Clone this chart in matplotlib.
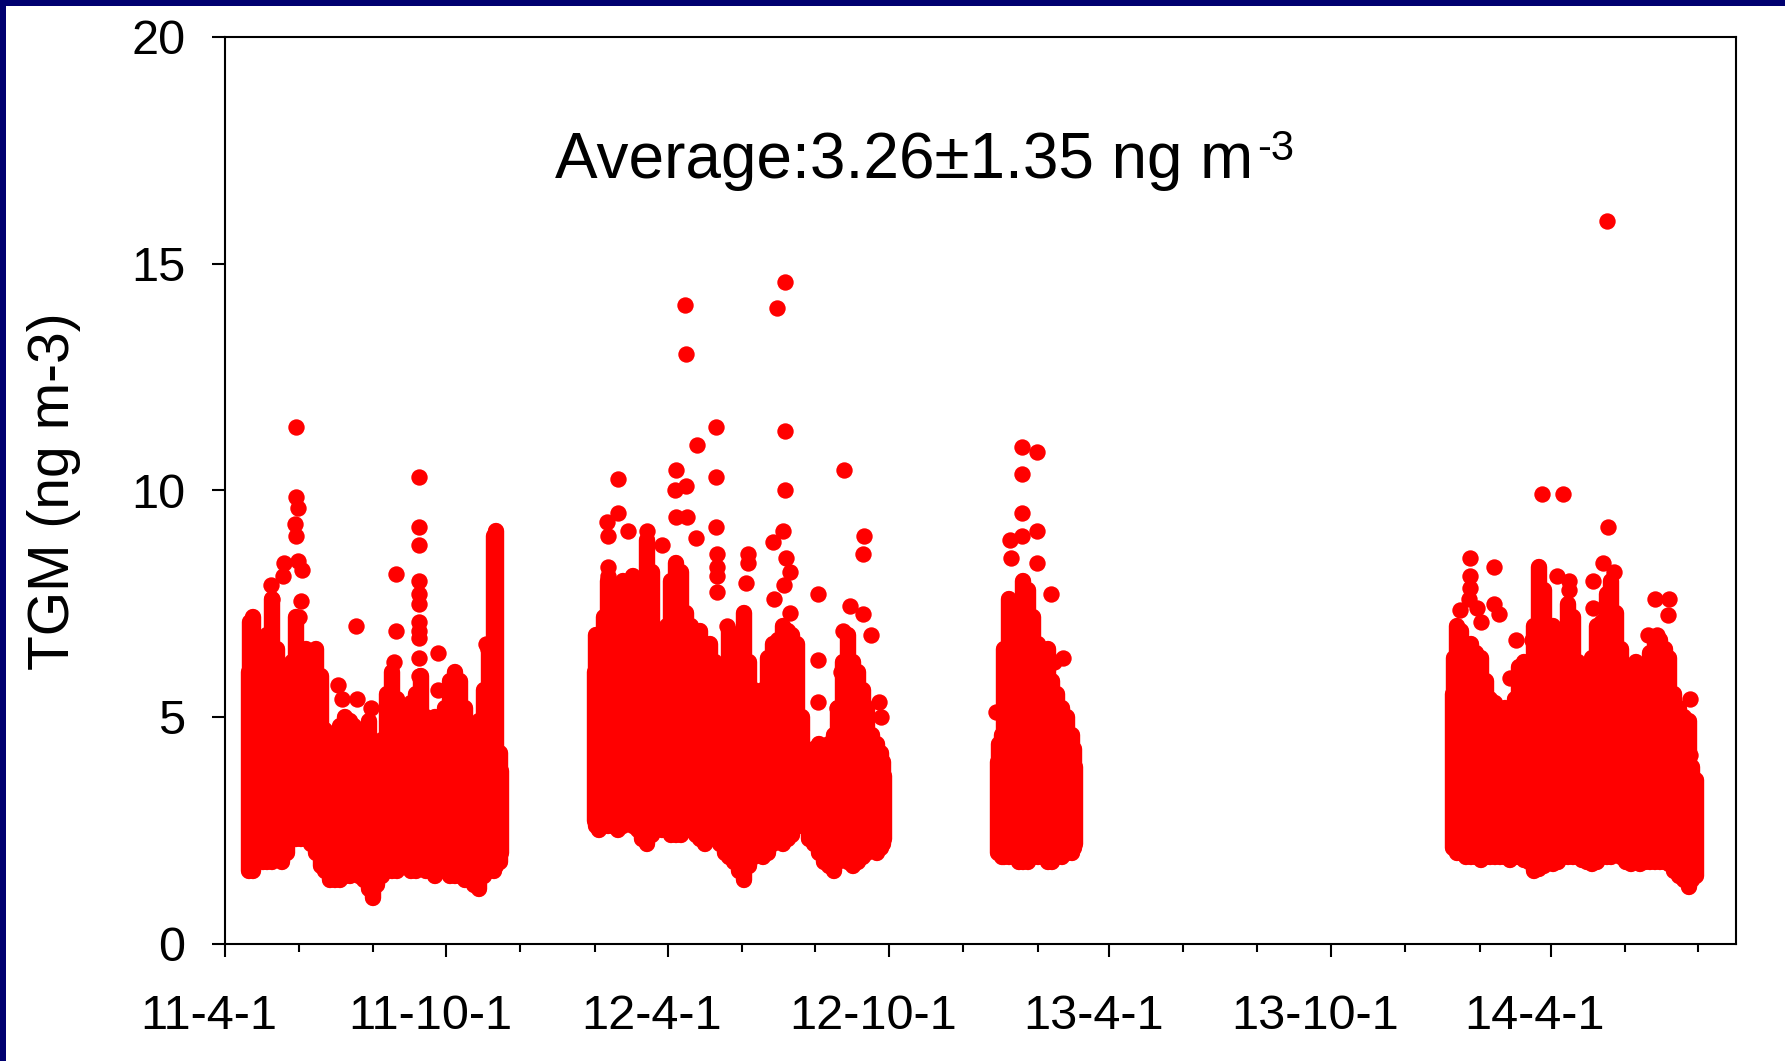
import matplotlib
matplotlib.use('Agg')
import matplotlib.pyplot as plt
import matplotlib.dates as mdates
import matplotlib.transforms as mtransforms
from matplotlib.patches import Rectangle
import pandas as pd

plt.rcParams['font.family'] = ['Liberation Sans', 'DejaVu Sans']

# ---------------- data ----------------
# dense bands: per date, lowest and highest value of the packed points
a_dates = ['2011-04-21', '2011-04-22', '2011-04-24', '2011-04-28', '2011-05-02', '2011-05-06',
           '2011-05-10', '2011-05-14', '2011-05-18', '2011-05-22', '2011-05-26', '2011-05-30',
           '2011-06-03', '2011-06-07', '2011-06-11', '2011-06-15', '2011-06-19', '2011-06-23',
           '2011-06-27', '2011-07-01', '2011-07-05', '2011-07-09', '2011-07-13', '2011-07-17',
           '2011-07-21', '2011-07-25', '2011-07-29', '2011-08-01', '2011-08-05', '2011-08-09',
           '2011-08-13', '2011-08-17', '2011-08-21', '2011-08-25', '2011-08-29', '2011-09-02',
           '2011-09-06', '2011-09-10', '2011-09-14', '2011-09-18', '2011-09-22', '2011-09-26',
           '2011-09-30', '2011-10-04', '2011-10-08', '2011-10-12', '2011-10-16', '2011-10-20',
           '2011-10-24', '2011-10-28', '2011-11-01', '2011-11-05', '2011-11-09', '2011-11-11',
           '2011-11-14', '2011-11-15']
a_low = [1.6, 1.7, 1.6, 1.8, 1.8, 1.8,
         1.8, 1.9, 1.8, 2.0, 2.3, 2.3,
         2.3, 2.3, 2.2, 2.0, 1.7, 1.6,
         1.4, 1.4, 1.4, 1.5, 1.5, 1.6,
         1.5, 1.4, 1.2, 1.0, 1.3, 1.5,
         1.6, 1.6, 1.6, 1.7, 1.7, 1.6,
         1.6, 1.7, 1.6, 1.6, 1.5, 1.7,
         1.6, 1.5, 1.5, 1.5, 1.4, 1.4,
         1.3, 1.2, 1.5, 1.6, 1.6, 1.7,
         1.8, 2.0]
a_high = [6.0, 7.1, 7.2, 6.0, 5.5, 6.8,
          7.6, 6.5, 6.0, 5.9, 6.2, 7.2,
          6.4, 6.5, 6.4, 6.5, 5.9, 4.7,
          4.3, 4.2, 4.8, 5.0, 4.9, 4.8,
          4.4, 4.6, 4.9, 4.2, 4.3, 4.5,
          5.5, 6.0, 5.4, 5.2, 5.0, 5.3,
          5.5, 5.9, 5.0, 4.8, 5.0, 4.7,
          5.2, 5.8, 6.0, 5.8, 5.2, 4.6,
          4.4, 4.9, 5.6, 6.5, 9.0, 9.1,
          4.2, 3.8]

b_dates = ['2012-02-01', '2012-02-02', '2012-02-04', '2012-02-08', '2012-02-12', '2012-02-16',
           '2012-02-20', '2012-02-24', '2012-02-28', '2012-03-03', '2012-03-07', '2012-03-11',
           '2012-03-15', '2012-03-19', '2012-03-23', '2012-03-27', '2012-03-31', '2012-04-04',
           '2012-04-08', '2012-04-12', '2012-04-16', '2012-04-20', '2012-04-24', '2012-04-28',
           '2012-05-02', '2012-05-06', '2012-05-10', '2012-05-14', '2012-05-18', '2012-05-22',
           '2012-05-26', '2012-05-30', '2012-06-03', '2012-06-07', '2012-06-11', '2012-06-15',
           '2012-06-19', '2012-06-23', '2012-06-27', '2012-07-01', '2012-07-05', '2012-07-09',
           '2012-07-13', '2012-07-17', '2012-07-21', '2012-07-27', '2012-07-31', '2012-08-04',
           '2012-08-08', '2012-08-12', '2012-08-16', '2012-08-20', '2012-08-24', '2012-08-28',
           '2012-09-01', '2012-09-05', '2012-09-09', '2012-09-13', '2012-09-17', '2012-09-21',
           '2012-09-24', '2012-09-26', '2012-09-27']
b_low = [2.7, 2.6, 2.5, 2.6, 2.6, 2.6,
         2.5, 2.6, 2.7, 2.6, 2.5, 2.3,
         2.2, 2.4, 2.6, 2.5, 2.5, 2.4,
         2.4, 2.4, 2.5, 2.5, 2.4, 2.3,
         2.2, 2.3, 2.4, 2.2, 2.0, 1.9,
         1.8, 1.6, 1.4, 1.7, 1.9, 2.0,
         1.9, 2.0, 2.2, 2.3, 2.2, 2.3,
         2.4, 2.6, 2.6, 2.3, 2.2, 2.0,
         1.8, 1.7, 1.6, 1.8, 1.9, 1.8,
         1.7, 1.8, 1.9, 2.0, 2.1, 2.0,
         2.1, 2.2, 2.3]
b_high = [6.0, 6.8, 6.6, 7.2, 8.0, 7.8,
          7.6, 8.0, 7.6, 8.1, 7.4, 7.8,
          8.9, 8.2, 6.5, 6.2, 7.0, 8.0,
          8.4, 8.2, 7.3, 7.0, 6.8, 6.9,
          6.5, 6.6, 6.2, 5.8, 5.9, 6.9,
          5.3, 6.0, 7.3, 6.2, 5.6, 5.4,
          5.6, 6.3, 6.6, 6.7, 7.0, 6.9,
          6.8, 6.6, 5.0, 4.2, 4.3, 4.4,
          4.2, 4.4, 4.6, 5.2, 6.2, 6.8,
          6.2, 6.0, 5.6, 5.2, 4.6, 4.4,
          4.2, 4.0, 3.7]

c_dates = ['2012-12-30', '2012-12-31', '2013-01-02', '2013-01-04', '2013-01-08', '2013-01-12',
           '2013-01-16', '2013-01-20', '2013-01-24', '2013-01-28', '2013-02-01', '2013-02-05',
           '2013-02-09', '2013-02-13', '2013-02-17', '2013-02-21', '2013-02-25', '2013-03-01',
           '2013-03-03', '2013-03-04']
c_low = [2.0, 2.0, 1.9, 1.9, 1.9, 1.9,
         1.8, 1.8, 1.8, 1.9, 1.9, 1.9,
         1.8, 1.8, 1.9, 1.9, 2.0, 2.0,
         2.1, 2.2]
c_high = [4.0, 4.4, 4.6, 6.5, 7.6, 7.0,
          7.5, 8.0, 7.8, 7.2, 6.6, 6.3,
          6.5, 5.8, 5.5, 5.2, 5.0, 4.6,
          4.3, 3.9]

d_dates = ['2014-01-10', '2014-01-11', '2014-01-13', '2014-01-17', '2014-01-21', '2014-01-25',
           '2014-01-29', '2014-02-02', '2014-02-06', '2014-02-10', '2014-02-14', '2014-02-18',
           '2014-02-22', '2014-02-26', '2014-03-02', '2014-03-06', '2014-03-10', '2014-03-14',
           '2014-03-18', '2014-03-22', '2014-03-26', '2014-03-30', '2014-04-03', '2014-04-07',
           '2014-04-11', '2014-04-15', '2014-04-19', '2014-04-23', '2014-04-27', '2014-05-01',
           '2014-05-05', '2014-05-09', '2014-05-13', '2014-05-17', '2014-05-21', '2014-05-25',
           '2014-05-29', '2014-06-02', '2014-06-06', '2014-06-10', '2014-06-14', '2014-06-18',
           '2014-06-22', '2014-06-26', '2014-06-30', '2014-07-04', '2014-07-08', '2014-07-12',
           '2014-07-16', '2014-07-20', '2014-07-24', '2014-07-27', '2014-07-30']
d_low = [2.1, 2.1, 2.0, 2.0, 1.9, 1.9,
         1.9, 1.85, 1.9, 1.9, 1.9, 1.9,
         1.9, 1.85, 1.9, 1.9, 1.85, 1.8,
         1.6, 1.65, 1.7, 1.8, 1.75, 1.8,
         1.9, 1.9, 1.9, 1.9, 1.85, 1.8,
         1.75, 1.8, 1.9, 1.9, 1.9, 1.95,
         1.9, 1.8, 1.75, 1.8, 1.75, 1.8,
         1.8, 1.8, 1.8, 1.8, 1.75, 1.6,
         1.5, 1.4, 1.25, 1.4, 1.5]
d_high = [5.5, 6.3, 7.0, 6.9, 6.5, 6.6,
          6.4, 6.3, 5.8, 5.4, 5.3, 5.0,
          5.2, 4.9, 5.4, 6.1, 6.2, 6.0,
          7.0, 8.3, 7.8, 6.8, 7.0, 6.5,
          6.6, 7.5, 7.2, 6.2, 5.9, 6.0,
          6.3, 7.0, 7.1, 7.7, 8.0, 7.3,
          6.5, 5.8, 5.5, 6.2, 6.1, 5.9,
          6.4, 6.6, 6.7, 6.5, 6.3, 5.5,
          5.2, 5.0, 4.9, 3.9, 3.6]

# isolated points above the bands
out_dates = ['2011-05-09', '2011-05-10', '2011-05-19', '2011-05-20', '2011-05-30', '2011-05-30',
             '2011-05-31', '2011-05-29', '2011-05-30', '2011-05-31', '2011-06-04', '2011-06-03',
             '2011-06-01', '2011-07-03', '2011-07-07', '2011-07-18', '2011-07-19', '2011-07-31',
             '2011-08-20', '2011-08-20', '2011-08-19', '2011-09-08', '2011-09-08', '2011-09-08',
             '2011-09-08', '2011-09-08', '2011-09-08', '2011-09-08', '2011-09-08', '2011-09-08',
             '2011-09-08', '2011-09-08', '2011-09-08', '2011-09-24', '2011-09-24', '2011-11-02',
             '2011-11-04', '2011-11-03',
             '2012-02-12', '2012-02-12', '2012-02-11', '2012-02-12', '2012-02-20', '2012-02-20',
             '2012-02-28', '2012-03-15', '2012-03-27', '2012-04-08', '2012-04-07', '2012-04-08',
             '2012-04-16', '2012-04-17', '2012-04-15', '2012-04-16', '2012-04-24', '2012-04-25',
             '2012-05-11', '2012-05-11', '2012-05-11', '2012-05-12', '2012-05-12', '2012-05-12',
             '2012-05-12', '2012-05-20', '2012-06-06', '2012-06-06', '2012-06-05', '2012-06-30',
             '2012-07-07', '2012-07-07', '2012-07-07', '2012-06-27', '2012-07-05', '2012-07-08',
             '2012-07-11', '2012-07-06', '2012-06-28', '2012-07-11', '2012-08-03', '2012-08-03',
             '2012-08-03', '2012-08-25', '2012-08-19', '2012-08-24', '2012-08-22', '2012-08-30',
             '2012-09-09', '2012-09-10', '2012-09-09', '2012-09-16', '2012-09-24', '2012-09-23',
             '2012-12-28', '2013-01-09', '2013-01-10', '2013-01-19', '2013-01-19', '2013-01-19',
             '2013-01-19', '2013-01-31', '2013-01-31', '2013-01-31', '2013-02-12', '2013-02-22',
             '2013-02-14',
             '2014-01-24', '2014-01-24', '2014-01-24', '2014-01-23', '2014-01-16', '2014-01-30',
             '2014-02-02', '2014-02-13', '2014-02-13', '2014-02-17', '2014-02-26', '2014-03-03',
             '2014-03-16', '2014-03-25', '2014-04-06', '2014-04-11', '2014-04-16', '2014-04-16',
             '2014-05-06', '2014-05-06', '2014-05-14', '2014-05-18', '2014-05-17', '2014-05-23',
             '2014-06-26', '2014-07-08', '2014-07-07', '2014-06-20', '2014-06-28', '2014-07-25',
             '2014-07-25']
out_vals = [7.9, 7.6, 8.1, 8.4, 11.4, 9.85,
            9.6, 9.25, 9.0, 8.45, 8.25, 7.55,
            7.2, 5.7, 5.4, 7.0, 5.4, 5.2,
            8.15, 6.9, 6.2, 10.3, 9.2, 8.8,
            8.0, 7.7, 7.5, 7.1, 6.9, 6.75,
            6.3, 5.9, 5.5, 6.4, 5.6, 5.4,
            6.5, 6.6,
            8.3, 8.1, 9.3, 9.0, 10.25, 9.5,
            9.1, 9.1, 8.8, 10.45, 10.0, 9.4,
            10.1, 9.4, 14.08, 13.0, 8.95, 11.0,
            11.4, 10.3, 9.2, 8.6, 8.3, 8.1,
            7.75, 7.0, 8.6, 8.4, 7.95, 14.03,
            14.6, 11.3, 10.0, 8.85, 9.1, 8.5,
            8.2, 7.9, 7.6, 7.3, 7.7, 6.25,
            5.33, 10.45, 5.2, 6.9, 6.0, 7.45,
            7.27, 9.0, 8.6, 6.8, 5.0, 5.33,
            5.1, 8.9, 8.5, 10.96, 10.36, 9.5,
            9.0, 10.85, 9.1, 8.4, 7.7, 6.3,
            6.2,
            8.5, 8.1, 7.85, 7.6, 7.35, 7.4,
            7.1, 8.3, 7.5, 7.27, 5.85, 6.7,
            6.7, 9.92, 8.1, 9.92, 8.0, 7.8,
            8.0, 7.4, 8.4, 9.18, 15.95, 8.2,
            7.6, 7.6, 7.24, 6.8, 6.8, 5.4,
            4.15]

x_start, x_end = '2011-04-01', '2014-09-01'
y_ticks = [0, 5, 10, 15, 20]
y_label = 'TGM (ng m-3)'
avg_text = 'Average:3.26\u00b11.35 ng m'
avg_sup = '-3'

# ---------------- figure ----------------
W, H = 1785, 1061
fig = plt.figure(figsize=(W / 100, H / 100), dpi=100)
fig.patch.set_facecolor('white')
ax = fig.add_axes([225 / W, 1 - 943.5 / H, (1736 - 225) / W, (943.5 - 37) / H])

RED = '#ff0000'
MARK_PT = 11.8
for dts, lo, hi in [(a_dates, a_low, a_high), (b_dates, b_low, b_high),
                    (c_dates, c_low, c_high), (d_dates, d_low, d_high)]:
    xs = mdates.date2num(pd.to_datetime(dts).to_pydatetime())
    lc = ax.vlines(xs, lo, hi, colors=RED, linewidth=MARK_PT)
    lc.set_capstyle('round')

ax.scatter(mdates.date2num(pd.to_datetime(out_dates).to_pydatetime()), out_vals,
           s=MARK_PT ** 2, c=RED, linewidths=0, zorder=3)

ax.set_xlim(mdates.date2num(pd.Timestamp(x_start).to_pydatetime()),
            mdates.date2num(pd.Timestamp(x_end).to_pydatetime()))
ax.set_ylim(0, 20)
ax.set_yticks(y_ticks)
ax.set_yticklabels([str(v) for v in y_ticks])

ax.xaxis.set_major_locator(mdates.MonthLocator(bymonth=[4, 10], bymonthday=1))
ax.xaxis.set_minor_locator(mdates.MonthLocator(bymonth=[2, 4, 6, 8, 10, 12], bymonthday=1))


def fmt(x, pos=None):
    dt = mdates.num2date(x)
    return f"{dt.year % 100}-{dt.month}-{dt.day}"


ax.xaxis.set_major_formatter(plt.FuncFormatter(fmt))

for s in ax.spines.values():
    s.set_linewidth(1.5)
    s.set_color('black')

ax.tick_params(axis='both', which='major', direction='out', length=9.4, width=1.5,
               labelsize=35, colors='black')
ax.tick_params(axis='x', which='minor', direction='out', length=5.8, width=1.5)
ax.tick_params(axis='y', which='both', right=False, pad=19)
ax.tick_params(axis='x', which='both', top=False)
ax.tick_params(axis='x', which='major', pad=27)

fig.text(54 / W, 1 - 491 / H, y_label, rotation=90, fontsize=41,
         ha='center', va='center')

t = fig.text(555 / W, 1 - 178 / H, avg_text, fontsize=46, ha='left', va='baseline')

# navy frame at top and left
NAVY = '#000070'
fig.add_artist(Rectangle((0, 1 - 6 / H), 1, 6 / H, transform=fig.transFigure,
                         facecolor=NAVY, edgecolor='none', zorder=10))
fig.add_artist(Rectangle((0, 0), 6 / W, 1, transform=fig.transFigure,
                         facecolor=NAVY, edgecolor='none', zorder=10))

fig.canvas.draw()
bb = t.get_window_extent()
fig.text((bb.x1 + 4) / W, 1 - 160 / H, avg_sup, fontsize=30, ha='left', va='baseline')

offset = mtransforms.ScaledTranslation(-16 / 100, 0, fig.dpi_scale_trans)
for tick in ax.xaxis.get_major_ticks():
    tick.label1.set_transform(tick.label1.get_transform() + offset)

fig.savefig('out.png', dpi=100)
